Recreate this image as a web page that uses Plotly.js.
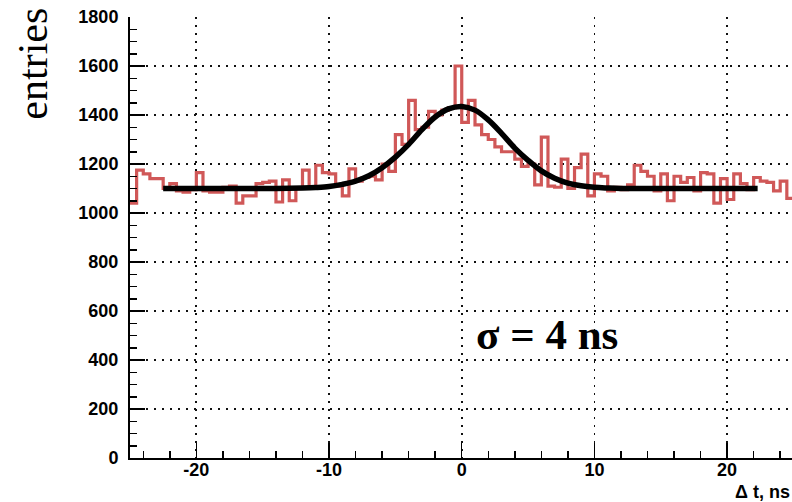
<!DOCTYPE html>
<html>
<head>
<meta charset="utf-8">
<script src="https://cdn.plot.ly/plotly-3.0.1.min.js"></script>
<style>
html,body{margin:0;padding:0;background:#fff;}
#chart{width:792px;height:502px;}
</style>
</head>
<body>
<div id="chart"></div>
<script>
// Histogram of time differences, 100 bins of 0.5 ns from -25 ns
const binStart = -25;
const binWidth = 0.5;
const counts = [
  1040, 1175, 1160, 1140, 1140, 1100, 1120, 1090, 1085, 1095,
  1165, 1090, 1085, 1085, 1105, 1110, 1040, 1070, 1070, 1120,
  1125, 1130, 1045, 1135, 1050, 1100, 1175, 1100, 1195, 1165,
  1160, 1110, 1070, 1180, 1130, 1145, 1150, 1135, 1200, 1170,
  1320, 1280, 1460, 1340, 1350, 1415, 1400, 1420, 1430, 1600,
  1370, 1460, 1360, 1320, 1300, 1270, 1250, 1250, 1220, 1190,
  1200, 1115, 1310, 1110, 1105, 1220, 1100, 1185, 1240, 1070,
  1160, 1150, 1090, 1105, 1095, 1115, 1195, 1170, 1150, 1090,
  1160, 1050, 1150, 1125, 1145, 1090, 1165, 1160, 1040, 1140,
  1055, 1160, 1120, 1095, 1145, 1130, 1125, 1090, 1130, 1060
];
// Fit curve
const fitX = [-22.5, -20, -17, -14, -12, -11, -10, -9, -8, -7, -6, -5, -4, -3, -2, -1, 0,
              1, 2, 3, 4, 5, 6, 7, 8, 9, 10, 11, 12, 14, 17, 20, 22.3];
const fitY = [1100, 1100, 1100, 1100, 1102, 1104, 1108, 1117, 1130, 1152, 1185, 1228, 1280, 1340, 1392, 1425, 1435,
              1420, 1380, 1325, 1265, 1215, 1172, 1142, 1122, 1111, 1105, 1102, 1100, 1100, 1100, 1100, 1100];
const xTickVals = [-20, -10, 0, 10, 20];
const xTickText = ['-20', '-10', '0', '10', '20'];
const yTickVals = [0, 200, 400, 600, 800, 1000, 1200, 1400, 1600, 1800];
const yTickText = ['0', '200', '400', '600', '800', '1000', '1200', '1400', '1600', '1800'];

const edges = [];
const stepY = [];
for (let i = 0; i < counts.length; i++) {
  edges.push(binStart + i * binWidth);
  stepY.push(counts[i]);
}
edges.push(binStart + counts.length * binWidth);
stepY.push(counts[counts.length - 1]);

const traces = [
  {
    type: 'scatter', mode: 'lines', x: edges, y: stepY,
    line: {shape: 'hv', color: 'rgb(208,88,88)', width: 3.2},
    hoverinfo: 'skip', showlegend: false
  },
  {
    type: 'scatter', mode: 'lines', x: fitX, y: fitY,
    line: {shape: 'spline', smoothing: 1, color: '#000', width: 5.5},
    hoverinfo: 'skip', showlegend: false
  }
];

const tickFont = {family: 'Liberation Sans, Arial, sans-serif', size: 18, color: '#000', weight: 'bold'};

const layout = {
  width: 792, height: 502,
  margin: {l: 130, r: 0, t: 17, b: 44, pad: 0},
  paper_bgcolor: '#fff', plot_bgcolor: '#fff',
  showlegend: false,
  xaxis: {
    range: [-25, 24.89],
    tickmode: 'array', tickvals: xTickVals, ticktext: xTickText,
    ticks: 'inside', ticklen: 15, tickwidth: 1.5, tickcolor: '#000',
    minor: {dtick: 2, tick0: 0, ticks: 'inside', ticklen: 7, tickwidth: 1.5, tickcolor: '#000', showgrid: false},
    showgrid: true, gridcolor: '#111', gridwidth: 1.8, griddash: '2px,6px',
    zeroline: false, showline: true, linecolor: '#000', linewidth: 2,
    tickfont: tickFont, ticklabelstandoff: -6
  },
  yaxis: {
    range: [0, 1800],
    tickmode: 'array', tickvals: yTickVals, ticktext: yTickText,
    ticks: 'inside', ticklen: 15, tickwidth: 1.5, tickcolor: '#000',
    minor: {dtick: 50, tick0: 0, ticks: 'inside', ticklen: 7, tickwidth: 1.5, tickcolor: '#000', showgrid: false},
    showgrid: true, gridcolor: '#111', gridwidth: 1.8, griddash: '2px,6px',
    zeroline: false, showline: true, linecolor: '#000', linewidth: 2,
    tickfont: tickFont, ticklabelstandoff: 6
  },
  annotations: [
    {
      text: 'entries', xref: 'paper', yref: 'paper', x: -0.146, y: 0.895,
      xanchor: 'center', yanchor: 'middle', textangle: -90, showarrow: false,
      font: {family: 'Liberation Serif, Times New Roman, serif', size: 42, color: '#000'}
    },
    {
      text: '<b>σ = 4 ns</b>', xref: 'x', yref: 'y', x: 6.4, y: 505,
      xanchor: 'center', yanchor: 'middle', showarrow: false,
      font: {family: 'Liberation Serif, Times New Roman, serif', size: 43, color: '#000'}
    },
    {
      text: '<b>Δ t, ns</b>', xref: 'paper', yref: 'paper', x: 1.0, y: -0.076,
      xanchor: 'right', yanchor: 'middle', showarrow: false,
      font: {family: 'Liberation Sans, Arial, sans-serif', size: 18, color: '#000'}
    }
  ]
};

Plotly.newPlot('chart', traces, layout, {displayModeBar: false, staticPlot: true});
</script>
</body>
</html>
